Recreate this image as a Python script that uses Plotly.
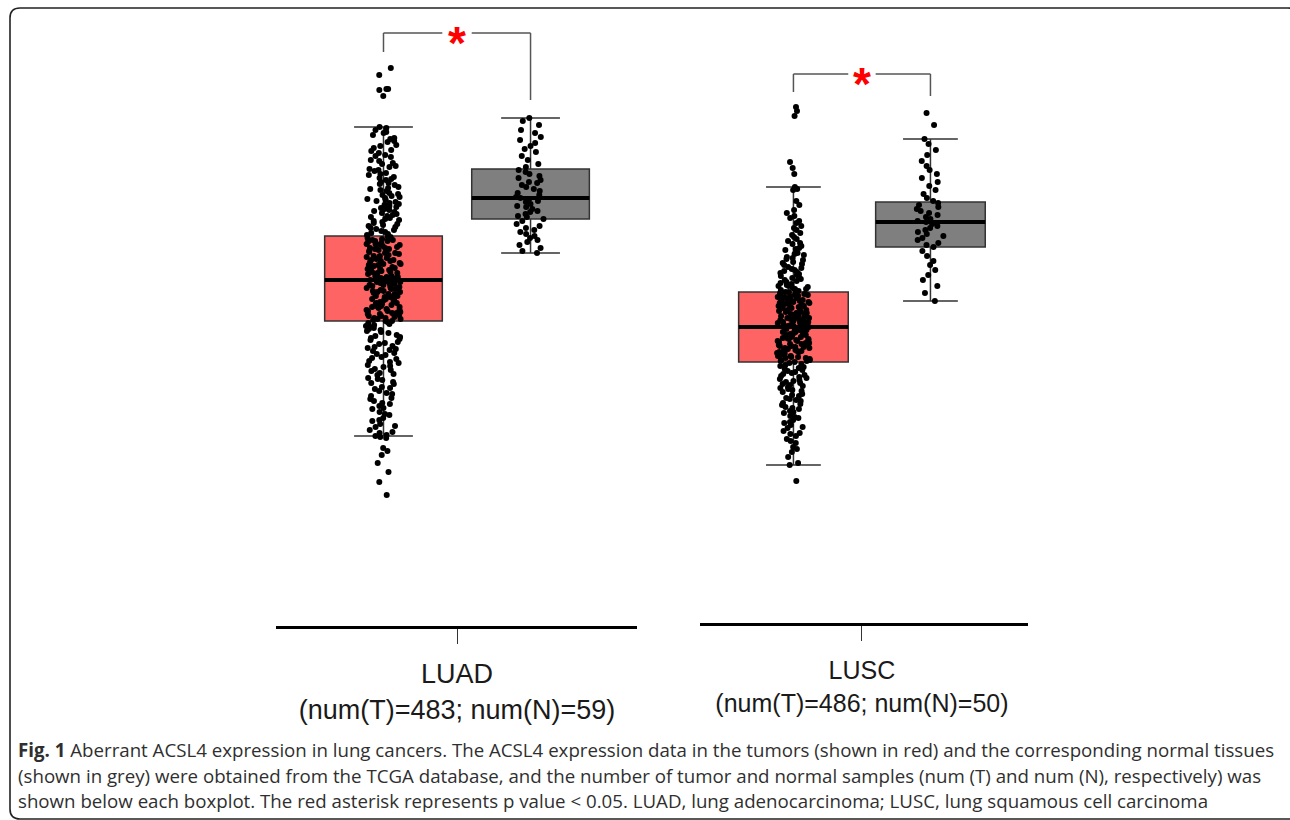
import plotly.graph_objects as go

# ---------------- data (hidden expression scale) ----------------
groups = ["Tumor", "Normal"]
panels = ["LUAD", "LUSC"]
panel_labels = ["LUAD<br>(num(T)=483; num(N)=59)", "LUSC<br>(num(T)=486; num(N)=50)"]

luad_q1 = [3.05, 4.07]
luad_med = [3.46, 4.28]
luad_q3 = [3.90, 4.57]
luad_lo = [1.90, 3.73]
luad_hi = [4.99, 5.08]

lusc_q1 = [2.61, 3.76]
lusc_med = [2.96, 4.01]
lusc_q3 = [3.31, 4.21]
lusc_lo = [1.58, 3.22]
lusc_hi = [4.36, 4.84]

luad_tumor = [
    5.58, 5.51, 5.37, 5.37, 5.36, 5.30,
    4.99, 4.98, 4.96, 4.93, 4.91, 4.88, 4.85, 4.84, 4.80, 4.78, 4.75, 4.73, 4.71, 4.69,
    4.66, 4.65, 4.62, 4.60, 4.59, 4.56, 4.55, 4.53, 4.51, 4.49, 4.48, 4.46, 4.44, 4.43,
    4.41, 4.39, 4.38, 4.36, 4.35, 4.33, 4.31, 4.30, 4.28, 4.27, 4.25, 4.24, 4.22, 4.21,
    4.19, 4.18, 4.16, 4.15, 4.13, 4.12, 4.10, 4.09, 4.07, 4.06, 4.04, 4.03, 4.01, 4.00,
    3.98, 3.97, 3.95, 3.94, 3.93, 3.91,
    3.89, 3.89, 3.88, 3.87, 3.86, 3.86, 3.85, 3.84, 3.83, 3.82, 3.82, 3.81, 3.80, 3.79,
    3.78, 3.78, 3.77, 3.76, 3.75, 3.74, 3.74, 3.73, 3.72, 3.71, 3.70, 3.70, 3.69, 3.68,
    3.67, 3.66, 3.66, 3.65, 3.64, 3.63, 3.62, 3.62, 3.61, 3.60, 3.59, 3.58, 3.58, 3.57,
    3.56, 3.55, 3.54, 3.54, 3.53, 3.52, 3.51, 3.50, 3.50, 3.49, 3.48, 3.48, 3.47, 3.47,
    3.46, 3.46,
    3.45, 3.45, 3.44, 3.43, 3.43, 3.42, 3.41, 3.40, 3.40, 3.39, 3.38, 3.37, 3.37, 3.36,
    3.35, 3.34, 3.34, 3.33, 3.32, 3.31, 3.30, 3.30, 3.29, 3.28, 3.27, 3.27, 3.26, 3.25,
    3.24, 3.23, 3.23, 3.22, 3.21, 3.20, 3.20, 3.19, 3.18, 3.17, 3.16, 3.16, 3.15, 3.14,
    3.13, 3.13, 3.12, 3.11, 3.10, 3.10, 3.09, 3.08, 3.07, 3.07, 3.06, 3.05, 3.05,
    3.03, 3.01, 3.00, 2.98, 2.96, 2.95, 2.93, 2.91, 2.89, 2.88, 2.86, 2.84, 2.82, 2.80,
    2.78, 2.77, 2.75, 2.73, 2.71, 2.69, 2.67, 2.65, 2.63, 2.61, 2.59, 2.57, 2.55, 2.53,
    2.51, 2.48, 2.46, 2.44, 2.42, 2.39, 2.37, 2.35, 2.32, 2.30, 2.27, 2.25, 2.22, 2.20,
    2.17, 2.14, 2.11, 2.08, 2.05, 2.02, 1.99, 1.96, 1.93, 1.91, 1.90,
    1.89, 1.88, 1.78, 1.75, 1.71, 1.63, 1.54, 1.44, 1.31,
    4.94, 4.87, 4.81, 4.76, 4.70, 4.63, 4.57, 4.52, 4.47, 4.42, 4.37, 4.32, 4.29, 4.26,
    4.23, 4.20, 4.17, 4.14, 4.11, 4.08, 4.05, 4.02, 3.99, 3.96, 3.92, 3.88, 3.85, 3.81,
    3.77, 3.73, 3.69, 3.65, 3.61, 3.57, 3.53, 3.49, 3.44, 3.41, 3.38, 3.35, 3.32, 3.29,
    3.26, 3.22, 3.19, 3.15, 3.12, 3.08, 3.04, 3.02, 2.99, 2.97, 2.94, 2.90, 2.87, 2.83,
    2.79, 2.76, 2.72, 2.68, 2.64, 2.60, 2.56, 2.52, 2.47, 2.43, 2.38, 2.33, 2.28, 2.23,
    2.18, 2.12, 2.06, 2.00, 1.94,
]

luad_normal = [
    5.08, 5.05, 5.01, 4.96, 4.93, 4.89, 4.86, 4.83, 4.80, 4.77, 4.74, 4.70, 4.66, 4.62, 4.59,
    4.56, 4.54, 4.52, 4.50, 4.48, 4.46, 4.44, 4.43, 4.41, 4.39, 4.37, 4.35, 4.33, 4.31, 4.29,
    4.28, 4.27, 4.25, 4.24, 4.22, 4.20, 4.19, 4.17, 4.15, 4.14, 4.12, 4.10, 4.09, 4.07,
    4.05, 4.02, 4.00, 3.98, 3.96, 3.94, 3.92, 3.90, 3.88, 3.86, 3.84, 3.81, 3.78, 3.75, 3.73,
]

lusc_tumor = [
    5.16, 5.12, 5.07, 4.61, 4.55, 4.49,
    4.36, 4.34, 4.33, 4.22, 4.18, 4.13, 4.07, 4.05, 4.00, 3.97, 3.93, 3.90, 3.88, 3.84,
    3.82, 3.79, 3.77, 3.75, 3.73, 3.70, 3.68, 3.66, 3.65, 3.63, 3.61, 3.60, 3.58, 3.56,
    3.55, 3.53, 3.52, 3.50, 3.49, 3.47, 3.46, 3.45, 3.43, 3.42, 3.41, 3.39, 3.38, 3.37,
    3.36, 3.35, 3.34, 3.33, 3.32, 3.31,
    3.30, 3.30, 3.29, 3.28, 3.28, 3.27, 3.26, 3.26, 3.25, 3.24, 3.24, 3.23, 3.22, 3.22,
    3.21, 3.20, 3.20, 3.19, 3.18, 3.18, 3.17, 3.16, 3.16, 3.15, 3.14, 3.13, 3.13, 3.12,
    3.11, 3.11, 3.10, 3.09, 3.09, 3.08, 3.07, 3.07, 3.06, 3.05, 3.05, 3.04, 3.03, 3.03,
    3.02, 3.01, 3.01, 3.00, 2.99, 2.99, 2.98, 2.97, 2.97, 2.96,
    2.95, 2.95, 2.94, 2.93, 2.93, 2.92, 2.91, 2.91, 2.90, 2.89, 2.89, 2.88, 2.87, 2.87,
    2.86, 2.85, 2.85, 2.84, 2.83, 2.83, 2.82, 2.81, 2.80, 2.80, 2.79, 2.78, 2.78, 2.77,
    2.76, 2.76, 2.75, 2.74, 2.73, 2.73, 2.72, 2.71, 2.71, 2.70, 2.69, 2.68, 2.68, 2.67,
    2.66, 2.66, 2.65, 2.64, 2.63, 2.63, 2.62, 2.61,
    2.60, 2.58, 2.57, 2.55, 2.54, 2.52, 2.51, 2.49, 2.48, 2.46, 2.45, 2.43, 2.42, 2.40,
    2.39, 2.37, 2.36, 2.34, 2.32, 2.31, 2.29, 2.27, 2.25, 2.24, 2.22, 2.20, 2.18, 2.16,
    2.14, 2.12, 2.10, 2.07, 2.05, 2.03, 2.00, 1.98, 1.95, 1.92, 1.90, 1.87, 1.84, 1.80,
    1.76, 1.71, 1.66, 1.60, 1.58,
    1.42,
    4.10, 4.02, 3.95, 3.86, 3.80, 3.74, 3.69, 3.64, 3.59, 3.54, 3.51, 3.48, 3.44, 3.40,
    3.37, 3.34, 3.31, 3.29, 3.27, 3.25, 3.23, 3.21, 3.19, 3.17, 3.15, 3.12, 3.10, 3.08,
    3.06, 3.04, 3.02, 3.00, 2.98, 2.96, 2.94, 2.92, 2.90, 2.88, 2.86, 2.84, 2.82, 2.79,
    2.77, 2.75, 2.72, 2.70, 2.67, 2.65, 2.62, 2.59, 2.56, 2.53, 2.50, 2.47, 2.44, 2.41,
    2.38, 2.35, 2.33, 2.28, 2.23, 2.19, 2.15, 2.11, 2.06, 2.01, 1.96, 1.89, 1.82, 1.74,
]

lusc_normal = [
    5.10, 4.98, 4.84, 4.79, 4.73, 4.68, 4.62, 4.57, 4.53, 4.49, 4.45, 4.41, 4.37, 4.33, 4.29,
    4.25, 4.22, 4.20, 4.18, 4.16, 4.14, 4.12, 4.10, 4.08, 4.06, 4.04, 4.02, 4.01, 3.99, 3.97,
    3.95, 3.93, 3.91, 3.89, 3.87, 3.85, 3.83, 3.80, 3.78, 3.76, 3.72, 3.67, 3.62, 3.58, 3.53,
    3.48, 3.43, 3.37, 3.30, 3.22,
]

caption_lines = [
    "<b>Fig. 1</b> Aberrant ACSL4 expression in lung cancers. The ACSL4 expression data in the tumors (shown in red) and the corresponding normal tissues",
    "(shown in grey) were obtained from the TCGA database, and the number of tumor and normal samples (num (T) and num (N), respectively) was",
    "shown below each boxplot. The red asterisk represents p value < 0.05. LUAD, lung adenocarcinoma; LUSC, lung squamous cell carcinoma",
]

# ---------------- styling / layout constants ----------------
W, H = 1290, 820
FILLS = ["#FF6464", "#7F7F7F"]
POS = [1, 2]
BOXW = 0.8


def px_x(p):
    return p / W


def px_y(p):
    return 1 - p / H


fig = go.Figure()

panel_cfg = [
    dict(xa="x", ya="y", q1=luad_q1, med=luad_med, q3=luad_q3, lo=luad_lo, hi=luad_hi,
         pts=[luad_tumor, luad_normal], bracket=(5.74, 5.93, 5.26), jit=[0.30, 0.28]),
    dict(xa="x2", ya="y2", q1=lusc_q1, med=lusc_med, q3=lusc_q3, lo=lusc_lo, hi=lusc_hi,
         pts=[lusc_tumor, lusc_normal], bracket=(5.31, 5.49, 5.27), jit=[0.30, 0.28]),
]

shapes = []
annotations = []

for cfg in panel_cfg:
    for gi in range(2):
        fig.add_trace(go.Box(
            x=[POS[gi]], q1=[cfg["q1"][gi]], median=[cfg["med"][gi]], q3=[cfg["q3"][gi]],
            lowerfence=[cfg["lo"][gi]], upperfence=[cfg["hi"][gi]],
            orientation="v", width=BOXW, whiskerwidth=0.5,
            fillcolor=FILLS[gi], line=dict(color="#333333", width=1.5),
            boxpoints=False, xaxis=cfg["xa"], yaxis=cfg["ya"], hoverinfo="skip",
        ))
    for gi in range(2):
        vals = cfg["pts"][gi]
        fig.add_trace(go.Box(
            x=[POS[gi]] * len(vals), y=vals, width=BOXW,
            boxpoints="all", jitter=cfg["jit"][gi], pointpos=0,
            fillcolor="rgba(0,0,0,0)", line=dict(color="rgba(0,0,0,0)", width=0),
            marker=dict(color="black", size=6, line=dict(width=0)),
            xaxis=cfg["xa"], yaxis=cfg["ya"], hoverinfo="skip",
        ))
    for gi in range(2):
        fig.add_trace(go.Scatter(
            x=[POS[gi] - BOXW / 2, POS[gi] + BOXW / 2], y=[cfg["med"][gi]] * 2,
            mode="lines", line=dict(color="black", width=4),
            xaxis=cfg["xa"], yaxis=cfg["ya"], hoverinfo="skip",
        ))
    lb, top, rb = cfg["bracket"]
    xr = cfg["xa"]
    yr = cfg["ya"]
    bl = dict(color="#555555", width=1.5)
    shapes += [
        dict(type="line", xref=xr, yref=yr, x0=1, x1=1, y0=lb, y1=top, line=bl),
        dict(type="line", xref=xr, yref=yr, x0=1, x1=1.40, y0=top, y1=top, line=bl),
        dict(type="line", xref=xr, yref=yr, x0=1.60, x1=2, y0=top, y1=top, line=bl),
        dict(type="line", xref=xr, yref=yr, x0=2, x1=2, y0=rb, y1=top, line=bl),
    ]
    annotations.append(dict(
        x=1.5, y=top, xref=xr, yref=yr, text="<b>*</b>", showarrow=False,
        font=dict(family="Liberation Sans, Arial", size=46, color="#FF0000"),
        xanchor="center", yanchor="middle", yshift=-10,
    ))

# rounded border around the figure (partly off-canvas at right/bottom)
x0, x1, y0, y1, r = 10, 1298, 8, 819, 10
path = (
    f"M {px_x(x0)},{px_y(y1 - r)} L {px_x(x0)},{px_y(y0 + r)} "
    f"Q {px_x(x0)},{px_y(y0)} {px_x(x0 + r)},{px_y(y0)} "
    f"L {px_x(x1 - r)},{px_y(y0)} Q {px_x(x1)},{px_y(y0)} {px_x(x1)},{px_y(y0 + r)} "
    f"L {px_x(x1)},{px_y(y1 - r)} Q {px_x(x1)},{px_y(y1)} {px_x(x1 - r)},{px_y(y1)} "
    f"L {px_x(x0 + r)},{px_y(y1)} Q {px_x(x0)},{px_y(y1)} {px_x(x0)},{px_y(y1 - r)} Z"
)
shapes.append(dict(type="path", xref="paper", yref="paper", path=path,
                   line=dict(color="#222222", width=1.6)))

caption_baselines = [754, 780, 805]
for txt, bpx in zip(caption_lines, caption_baselines):
    annotations.append(dict(
        x=px_x(16), y=px_y(bpx - 5), xref="paper", yref="paper", text=txt,
        showarrow=False, xanchor="left", yanchor="middle",
        font=dict(family="Open Sans", size=18.7, color="#2f2f2f"),
    ))

axis_common = dict(showline=True, linecolor="black", linewidth=3, ticks="outside",
                   ticklen=15, tickwidth=1.3, tickcolor="#333333", showgrid=False,
                   zeroline=False, tickvals=[1.5], fixedrange=True)

fig.update_layout(
    width=W, height=H, margin=dict(l=0, r=0, t=0, b=0),
    paper_bgcolor="white", plot_bgcolor="white", showlegend=False, boxmode="overlay",
    xaxis=dict(**axis_common, domain=[px_x(276), px_x(637)], range=[0.269, 2.724],
               ticktext=[panel_labels[0]], ticklabelstandoff=7,
               tickfont=dict(family="Liberation Sans, Arial", size=27, color="#1a1a1a"),
               anchor="y"),
    yaxis=dict(visible=False, domain=[px_y(626), px_y(20)], range=[0, 6.06], anchor="x",
               fixedrange=True),
    xaxis2=dict(**axis_common, domain=[px_x(700), px_x(1028)], range=[0.318, 2.712],
                ticktext=[panel_labels[1]], ticklabelstandoff=8,
                tickfont=dict(family="Liberation Sans, Arial", size=25, color="#1a1a1a"),
                anchor="y2"),
    yaxis2=dict(visible=False, domain=[px_y(623), px_y(20)], range=[0, 6.03], anchor="x2",
                fixedrange=True),
    shapes=shapes, annotations=annotations,
)

fig.write_html("out.html", config={"displayModeBar": False},
               post_script="document.body.style.margin='0px';")
